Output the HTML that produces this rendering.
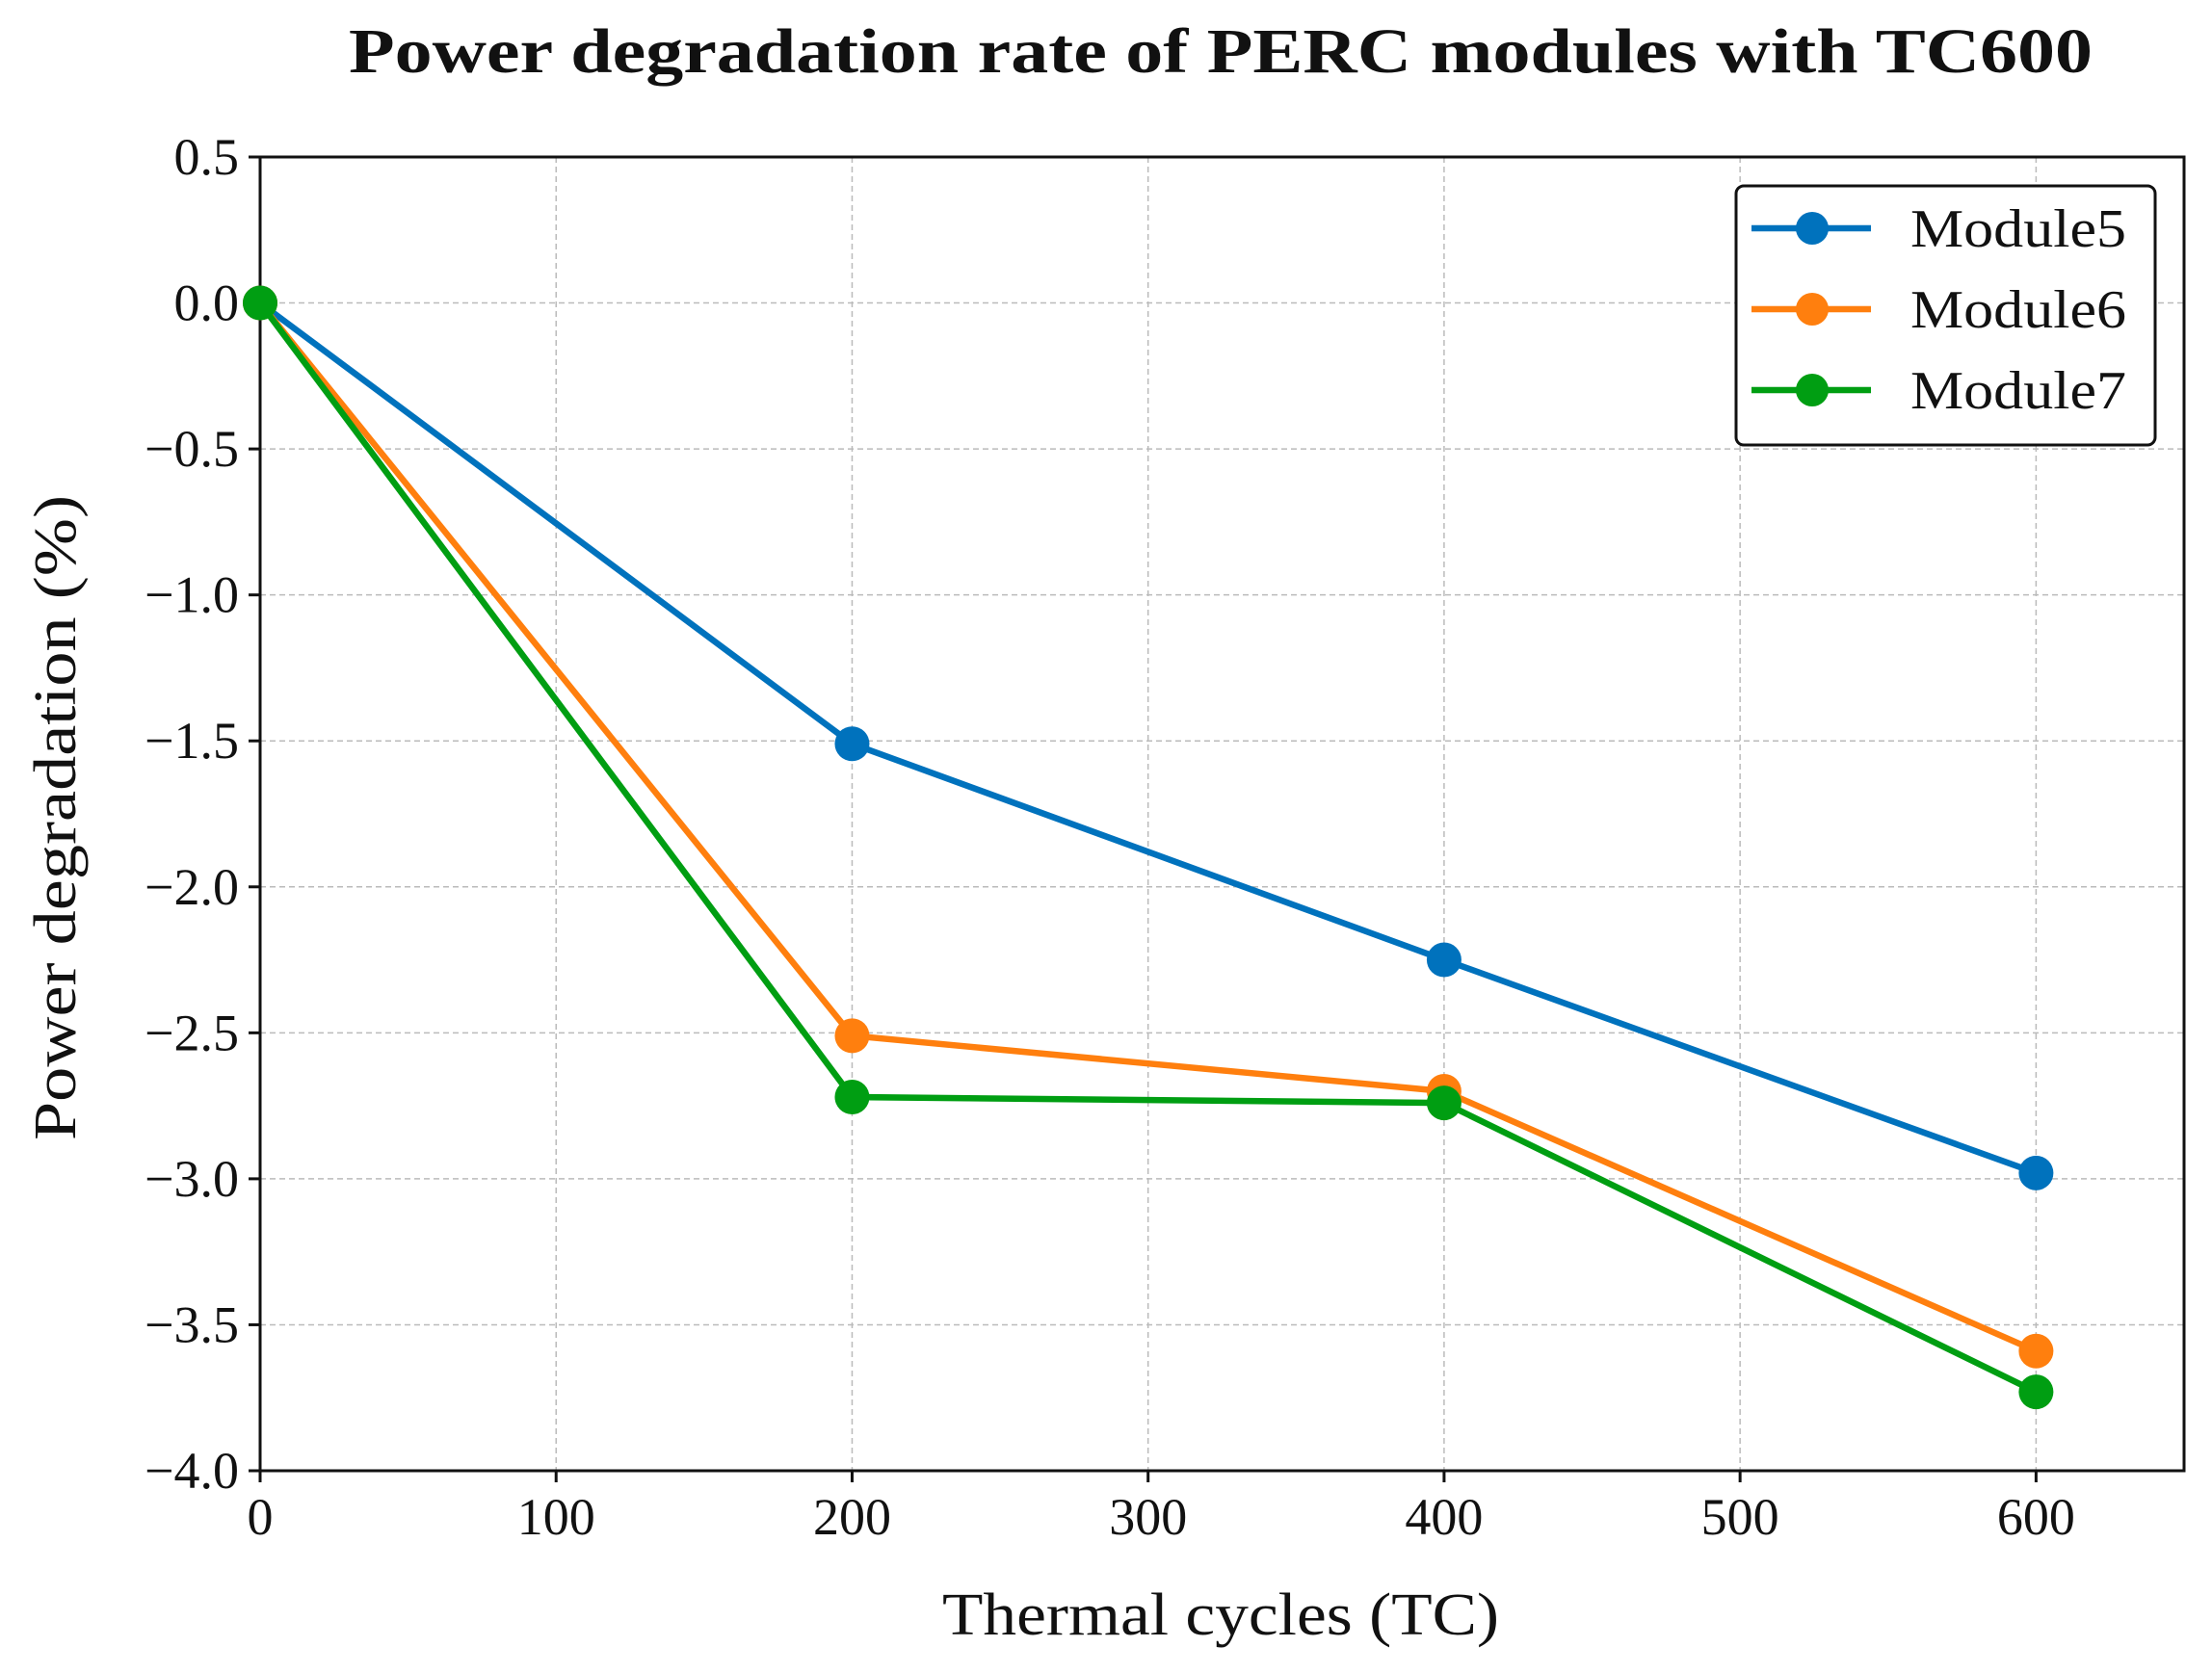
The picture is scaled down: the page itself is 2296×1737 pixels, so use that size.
<!DOCTYPE html>
<html><head><meta charset="utf-8"><style>
body{margin:0;background:#fff}
svg text{font-family:"Liberation Serif",serif;fill:#111}
</style></head><body>
<svg id="chart" width="2296" height="1732" xmlns="http://www.w3.org/2000/svg">
<text x="1267" y="75" text-anchor="middle" font-size="66" font-weight="bold" textLength="1810" lengthAdjust="spacingAndGlyphs">Power degradation rate of PERC modules with TC600</text>
<text x="1267" y="1697" text-anchor="middle" font-size="62" textLength="578" lengthAdjust="spacingAndGlyphs">Thermal cycles (TC)</text>
<text transform="translate(78,849) rotate(-90)" text-anchor="middle" font-size="62" textLength="670" lengthAdjust="spacingAndGlyphs">Power degradation (%)</text>
<g id="grid"></g><g id="axes"></g><g id="series"></g>
<g>
<rect x="1802" y="193" width="435" height="269" rx="8" fill="#fff" stroke="#111" stroke-width="3"/>
<g id="legend"></g>
</g>
</svg>
<script>
const xValues=[0,200,400,600];
const seriesNames=["Module5","Module6","Module7"];
const module5=[0,-1.51,-2.25,-2.98];
const module6=[0,-2.51,-2.70,-3.59];
const module7=[0,-2.72,-2.74,-3.73];
const xTicks=[0,100,200,300,400,500,600];
const yTicks=[0.5,0,-0.5,-1,-1.5,-2,-2.5,-3,-3.5,-4];
const yTickLabels=["0.5","0.0","\u22120.5","\u22121.0","\u22121.5","\u22122.0","\u22122.5","\u22123.0","\u22123.5","\u22124.0"];
const colors=["#0072bd","#ff7f0e","#009e12"];
const L=270,R=2267,T=163,B=1527;
const xs=v=>L+(v-0)/650*(R-L);
const ys=v=>T+(0.5-v)/4.5*(B-T);
const NS="http://www.w3.org/2000/svg";
function mk(t,a,p){const e=document.createElementNS(NS,t);for(const k in a)e.setAttribute(k,a[k]);p.appendChild(e);return e;}
const grid=document.getElementById('grid'),axes=document.getElementById('axes'),ser=document.getElementById('series'),leg=document.getElementById('legend');
xTicks.forEach(v=>{
 const g=mk('line',{x1:xs(v),x2:xs(v),y1:T,y2:B,stroke:'#bbb','stroke-width':1.5,'stroke-dasharray':'6 4'},grid);
 
 
 const t=mk('line',{x1:xs(v),x2:xs(v),y1:B,y2:B+12,stroke:'#111','stroke-width':3},axes);
 
 
 const l=mk('text',{x:xs(v),y:B+66,'text-anchor':'middle','font-size':54},axes);l.textContent=v;
 
 
});
yTicks.forEach((v,i)=>{
 const g=mk('line',{x1:L,x2:R,y1:ys(v),y2:ys(v),stroke:'#bbb','stroke-width':1.5,'stroke-dasharray':'6 4'},grid);
 
 
 const t=mk('line',{x1:L-12,x2:L,y1:ys(v),y2:ys(v),stroke:'#111','stroke-width':3},axes);
 
 
 const l=mk('text',{x:L-22,y:ys(v)+18,'text-anchor':'end','font-size':54},axes);l.textContent=yTickLabels[i];
 
 
});
const frame=mk('rect',{x:L,y:T,width:R-L,height:B-T,fill:'none',stroke:'#111','stroke-width':3},axes);


[module5,module6,module7].forEach((d,s)=>{
 const pl=mk('polyline',{points:d.map((v,i)=>xs(xValues[i])+','+ys(v)).join(' '),fill:'none',stroke:colors[s],'stroke-width':6.5,'stroke-linejoin':'round'},ser);
 
 
 d.forEach((v,i)=>{
  const c=mk('circle',{cx:xs(xValues[i]),cy:ys(v),r:18,fill:colors[s]},ser);
  
  
 });
 const y=237+s*84;
 const ll=mk('line',{x1:1818,x2:1942,y1:y,y2:y,stroke:colors[s],'stroke-width':6.5},leg);
 
 
 const lc=mk('circle',{cx:1881,cy:y,r:17,fill:colors[s]},leg);
 
 
 const lt=mk('text',{x:1983,y:y+19,'font-size':56,textLength:224,lengthAdjust:'spacingAndGlyphs'},leg);lt.textContent=seriesNames[s];
 
 
});
</script>
</body></html>
